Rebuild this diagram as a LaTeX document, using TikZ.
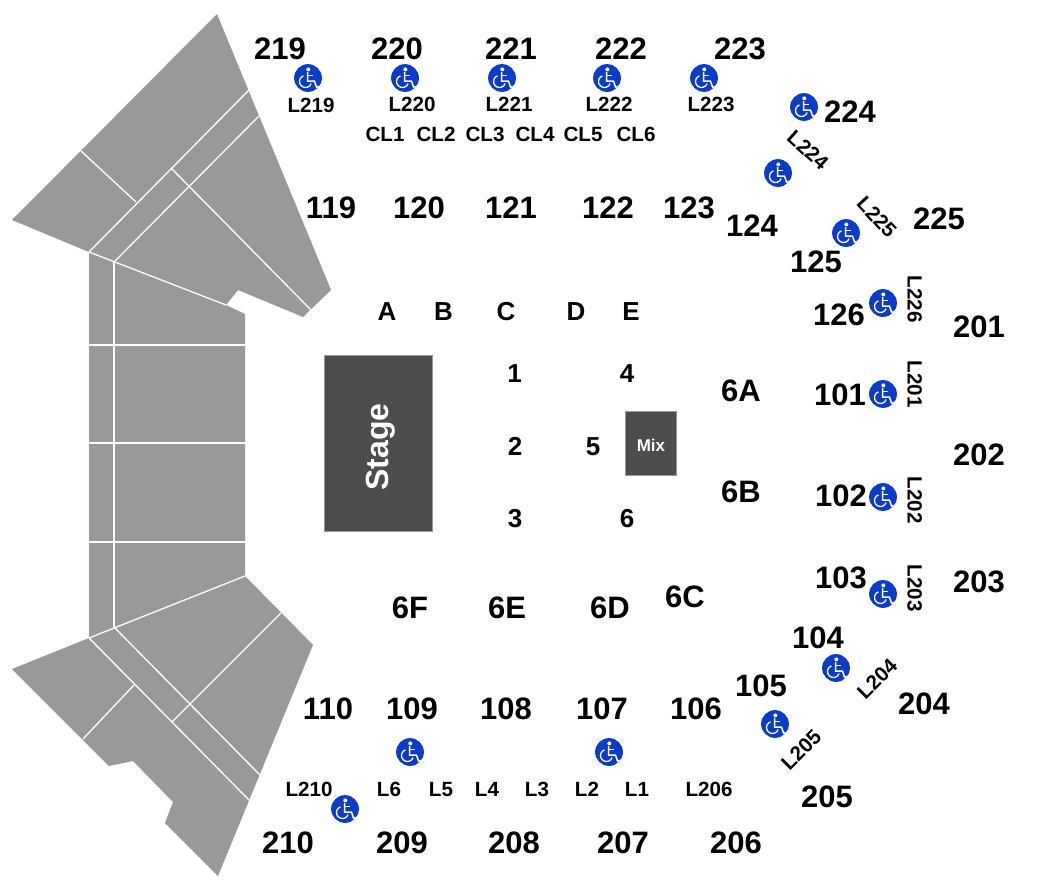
\documentclass[tikz,border=0pt]{standalone}
\usepackage{fontspec}
\setmainfont{Liberation Sans}
\definecolor{seat}{HTML}{999999}
\definecolor{dark}{HTML}{4D4D4D}
\definecolor{wcblue}{HTML}{0A3CC8}
\tikzset{
  lbl/.style={inner sep=0pt,outer sep=0pt,text=black,anchor=center,text depth=0pt},
  big/.style={lbl,font=\fontsize{31}{31}\selectfont\bfseries,text height=22pt},
  mid/.style={lbl,font=\fontsize{26}{26}\selectfont\bfseries,text height=19pt},
  small/.style={lbl,font=\fontsize{20.6}{20.6}\selectfont\bfseries,text height=14.6pt},
  divider/.style={draw=white,line width=1.3pt,line cap=butt},
  wheel/.pic={
    \fill[wcblue] (0,0) circle[radius=13.9];
    \fill[white] (0.3,-8.6) circle[radius=2];
    \draw[white,line width=1.5pt,line join=miter] (-0.3,-6) -- (-0.3,3.2) -- (6.5,3.2) -- (8.6,9.2) -- (10.6,8.4);
    \draw[white,line width=1.4pt] (-0.3,-2.6) -- (5.2,-2.6);
    \draw[white,line width=1.3pt] (-4.55,-2.14) arc[start angle=-110,end angle=-340,radius=6];
  }
}
\begin{document}
\begin{tikzpicture}[x=1pt,y=-1pt]
\useasboundingbox (0,0) rectangle (1050,894);
% seating block
\fill[seat] (217,14) -- (331,290) -- (303,317) -- (238,290) -- (226,305) -- (245,314)
  -- (245,576) -- (313,645) -- (218,876) -- (165,823) -- (173,802) -- (133,761)
  -- (109,766) -- (12,669) -- (89,638) -- (89,252) -- (12,220) -- cycle;
% dividers, top wing
\draw[divider] (89,252) -- (226,305);
\draw[divider] (114,262) -- (114,627);
\draw[divider] (89,252) -- (249,90);
\draw[divider] (114,262) -- (259,116);
\draw[divider] (81,151) -- (136,202);
\draw[divider] (171,168) -- (311,310);
% dividers, middle
\draw[divider] (89,345) -- (245,345);
\draw[divider] (89,443) -- (245,443);
\draw[divider] (89,542) -- (245,542);
% dividers, bottom wing
\draw[divider] (245,576) -- (89,638);
\draw[divider] (89,638) -- (249,800);
\draw[divider] (114,627) -- (260,775);
\draw[divider] (281,613) -- (172,722);
\draw[divider] (134,685) -- (83,739);
% stage and mix
\node[fill=dark,draw=seat,line width=.5pt,minimum width=108pt,minimum height=176pt,inner sep=0pt] (stage) at (378.5,443) {};
\node[lbl,text=white,rotate=90,font=\fontsize{32}{32}\selectfont\bfseries,text height=22pt] (stagetxt) at (377,447) {Stage};
\node[fill=dark,draw=seat,line width=.5pt,minimum width=51pt,minimum height=64pt,inner sep=0pt] (mix) at (651.2,443.7) {};
\node[lbl,text=white,font=\fontsize{17}{17}\selectfont\bfseries,text height=12pt] (mixtxt) at (651,445) {Mix};
% large section numbers
\foreach \t/\x/\y in {219/280/48.5,220/397/48.5,221/511/48.5,222/621/48.5,223/740/48.5,224/850/111,225/939/218,
  119/331/207,120/419/207,121/511/207,122/608/207,123/689/207,124/752/225,125/816/261,126/839/314,
  201/979/326,101/840/394,102/841/495,202/979/454,103/841/577,203/979/581,104/818/637,204/924/703,
  105/761/685,205/827/796,110/328/708,109/412/708,108/506/708,107/602/708,106/696/708,
  210/288/842,209/402/842,208/514/842,207/623/842,206/736/842,
  6A/741/390,6B/741/491,6C/685/596,6D/610/607,6E/507/607,6F/410/607}
  \node[big] (s\t) at (\x,\y) {\t};
% floor rows and sections
\foreach \t/\x/\y in {A/387/310.5,B/443.5/310.5,C/506/310.5,D/576/310.5,E/631/310.5,
  1/514.5/373,4/627/373,2/515/446,5/593/446,3/515/518,6/627/518}
  \node[mid] (f\t) at (\x,\y) {\t};
% lift labels
\foreach \t/\x/\y in {L219/311/105,L220/412/104,L221/509/104,L222/609/104,L223/711/104,
  CL1/385/134,CL2/436/134,CL3/485/134,CL4/535/134,CL5/583/134,CL6/636/134,
  L210/309/789,L6/389/789,L5/441/789,L4/487/789,L3/537/789,L2/587/789,L1/637/789,L206/709/789}
  \node[small] (l\t) at (\x,\y) {\t};
\foreach \t/\x/\y/\r in {L224/808/150/-42,L225/877/217/-47,L226/915/299/-90,L201/915/384/-90,
  L202/915/500/-90,L203/915/588/-90,L204/877/679/45,L205/801/750/45}
  \node[small,rotate=\r] (l\t) at (\x,\y) {\t};
% wheelchair markers
\foreach \x/\y in {308/78,405/78,502/78,607/78,704/78,804/107,778/173,846/233,883/303,
  883/394,883/497,883/594,836/668,775/724,410/752,609/752,345/809}
  \pic at (\x,\y) {wheel};
\end{tikzpicture}
\end{document}
